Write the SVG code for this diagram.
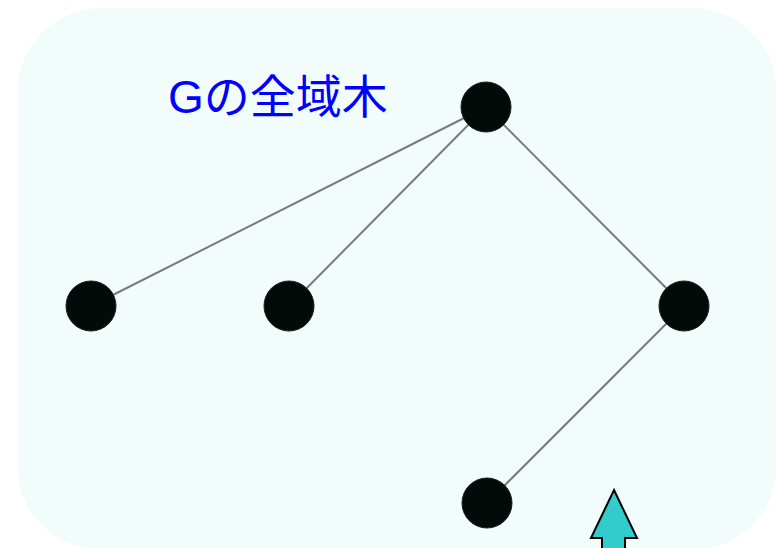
<svg xmlns="http://www.w3.org/2000/svg" width="776" height="548" viewBox="0 0 776 548">
<style>
.node{fill:#030a08;stroke:#1a1f1e;stroke-width:1}
.edge{stroke:#7a7a7a;stroke-width:2;fill:none}
.label{font-family:"Liberation Sans","Noto Sans CJK JP",sans-serif;font-size:46px;fill:#0000ff}
</style>
<rect x="17" y="8" width="760" height="542" rx="85" ry="85" fill="#f2fcfb"/>
<g id="connectors">
<line class="edge" x1="486" y1="107" x2="91" y2="306"/>
<line class="edge" x1="486" y1="107" x2="289" y2="306"/>
<line class="edge" x1="486" y1="107" x2="684" y2="306"/>
<line class="edge" x1="684" y1="306" x2="487" y2="503"/>
</g>
<g id="n-root"><circle class="node" cx="486" cy="107" r="25"/></g>
<g id="n-a"><circle class="node" cx="91" cy="306" r="25"/></g>
<g id="n-b"><circle class="node" cx="289" cy="306" r="25"/></g>
<g id="n-c"><circle class="node" cx="684" cy="306" r="25"/></g>
<g id="n-d"><circle class="node" cx="487" cy="503" r="25"/></g>
<g id="title"><text class="label" x="168" y="113">Gの全域木</text></g>
<g id="arrow"><polygon points="614,490 637,538 625,538 625,552 602,552 602,538 591,538" fill="#33cccc" stroke="#000" stroke-width="2" stroke-linejoin="miter"/></g>
</svg>
